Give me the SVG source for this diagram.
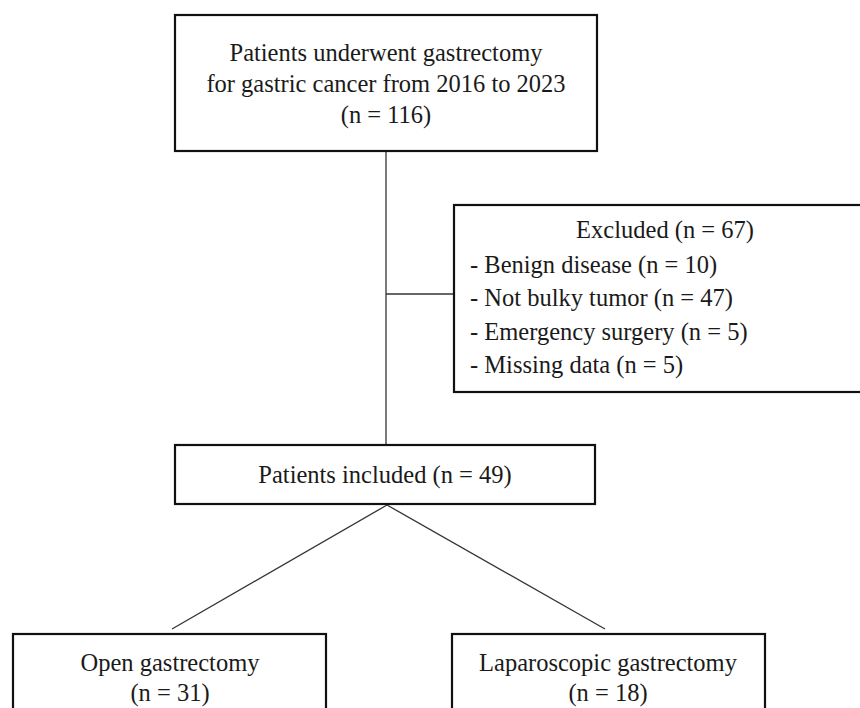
<svg xmlns="http://www.w3.org/2000/svg" width="860" height="708" viewBox="0 0 860 708">
<style>
.box{fill:#fff;stroke:#111;stroke-width:2.2}
.t{font-family:"Liberation Serif","Times New Roman",serif;font-size:24.5px;fill:#1a1a1a}
.c{text-anchor:middle}
.ln{stroke:#333;stroke-width:1.3;fill:none}
</style>
<rect width="860" height="708" fill="#fff"/>
<g id="connectors">
<line class="ln" x1="386" y1="151" x2="386" y2="445"/>
<line class="ln" x1="386" y1="294" x2="454" y2="294"/>
<line class="ln" x1="387" y1="505" x2="172" y2="629"/>
<line class="ln" x1="387" y1="505" x2="605" y2="629"/>
</g>
<g id="n-start">
<rect class="box" x="175" y="15" width="422" height="136"/>
<text class="t c" x="386" y="61">Patients underwent gastrectomy</text>
<text class="t c" x="386" y="92">for gastric cancer from 2016 to 2023</text>
<text class="t c" x="386" y="123">(n = 116)</text>
</g>
<g id="n-excluded">
<rect class="box" x="454" y="205" width="430" height="187"/>
<text class="t c" x="665" y="238">Excluded (n = 67)</text>
<text class="t" x="470" y="273">- Benign disease (n = 10)</text>
<text class="t" x="470" y="306">- Not bulky tumor (n = 47)</text>
<text class="t" x="470" y="340">- Emergency surgery (n = 5)</text>
<text class="t" x="470" y="373">- Missing data (n = 5)</text>
</g>
<g id="n-included">
<rect class="box" x="175" y="445" width="420" height="59"/>
<text class="t c" x="385" y="483">Patients included (n = 49)</text>
</g>
<g id="n-open">
<rect class="box" x="13" y="634" width="313" height="90"/>
<text class="t c" x="170" y="671">Open gastrectomy</text>
<text class="t c" x="170" y="701">(n = 31)</text>
</g>
<g id="n-lap">
<rect class="box" x="452" y="634" width="313" height="90"/>
<text class="t c" x="608" y="671">Laparoscopic gastrectomy</text>
<text class="t c" x="608" y="701">(n = 18)</text>
</g>
</svg>
